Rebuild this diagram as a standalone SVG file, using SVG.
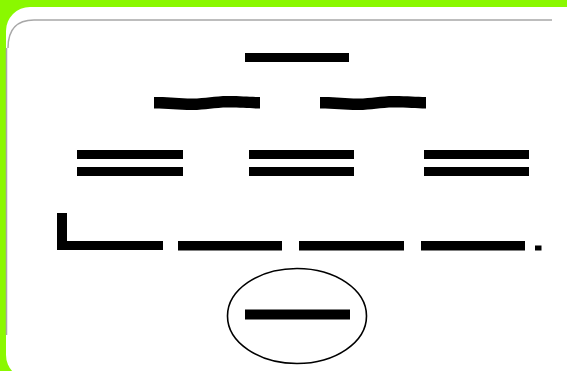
<svg xmlns="http://www.w3.org/2000/svg" width="567" height="371" viewBox="0 0 567 371">
<style>
.bar{fill:#000}
.edge{fill:none;stroke:#a8a8a8;stroke-width:1.5}
</style>
<defs>
<path id="wave" d="M0,1 C14,0.5 24,2.5 38,2.5 C52,2.5 60,0 74,0 C88,0 96,1 106,1 L106,12.5 C96,12.5 88,11.5 74,11.5 C60,11.5 52,14 38,14 C24,14 14,12.5 0,12.5 Z"/>
</defs>
<rect x="0" y="0" width="567" height="371" fill="#8AF800"/>
<rect x="6" y="7" width="585" height="372" rx="24" fill="#fff"/>
<path class="edge" d="M8,48 Q8,20 34,20 L552,20"/>
<line class="edge" x1="6.5" y1="48" x2="6.5" y2="335" stroke="#9aa0a8"/>
<g id="top"><rect class="bar" x="245" y="53" width="104" height="9"/></g>
<g id="wave-left"><use href="#wave" x="154" y="96"/></g>
<g id="wave-right"><use href="#wave" x="320" y="96"/></g>
<g id="double-1"><rect class="bar" x="77" y="150" width="106" height="9"/><rect class="bar" x="77" y="167" width="106" height="9"/></g>
<g id="double-2"><rect class="bar" x="249" y="150" width="105" height="9"/><rect class="bar" x="249" y="167" width="105" height="9"/></g>
<g id="double-3"><rect class="bar" x="424" y="150" width="105" height="9"/><rect class="bar" x="424" y="167" width="105" height="9"/></g>
<g id="corner"><path class="bar" d="M57,213 L67,213 L67,241 L163,241 L163,250 L57,250 Z"/></g>
<g id="line-2"><rect class="bar" x="178" y="241" width="104" height="9.5"/></g>
<g id="line-3"><rect class="bar" x="299" y="241" width="105" height="9.5"/></g>
<g id="line-4"><rect class="bar" x="421" y="241" width="104" height="9.5"/></g>
<g id="dot"><rect class="bar" x="535" y="245.5" width="6.5" height="5"/></g>
<g id="circled"><ellipse cx="297" cy="316" rx="69.5" ry="47.5" fill="none" stroke="#000" stroke-width="1.6"/><rect class="bar" x="245" y="309.5" width="105" height="10"/></g>
</svg>
